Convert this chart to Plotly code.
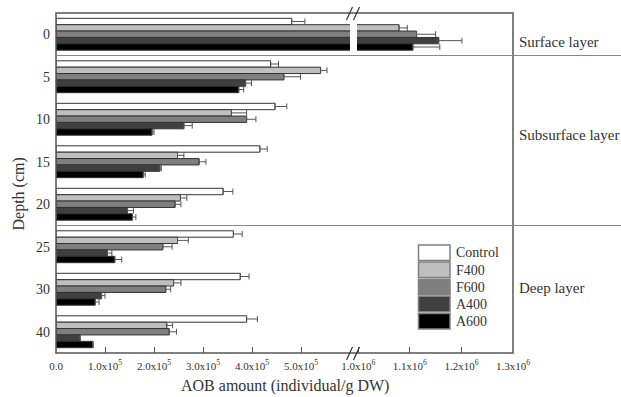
import plotly.graph_objects as go

depths = ["0", "5", "10", "15", "20", "25", "30", "40"]
series_names = ["Control", "F400", "F600", "A400", "A600"]

control = [4.81e5, 4.38e5, 4.47e5, 4.16e5, 3.41e5, 3.62e5, 3.76e5, 3.89e5]
control_err = [0.27e5, 0.16e5, 0.24e5, 0.15e5, 0.20e5, 0.18e5, 0.18e5, 0.22e5]
f400 = [10.79e5, 5.40e5, 3.58e5, 2.48e5, 2.54e5, 2.48e5, 2.40e5, 2.26e5]
f400_err = [0.16e5, 0.13e5, 0.31e5, 0.13e5, 0.13e5, 0.22e5, 0.15e5, 0.12e5]
f600 = [11.13e5, 4.65e5, 3.89e5, 2.92e5, 2.43e5, 2.18e5, 2.24e5, 2.31e5]
f600_err = [0.37e5, 0.34e5, 0.19e5, 0.14e5, 0.12e5, 0.19e5, 0.10e5, 0.15e5]
a400 = [11.56e5, 3.87e5, 2.61e5, 2.12e5, 1.46e5, 1.05e5, 0.93e5, 0.49e5]
a400_err = [0.45e5, 0.12e5, 0.17e5, 0.03e5, 0.12e5, 0.09e5, 0.07e5, 0.0]
a600 = [11.06e5, 3.73e5, 1.96e5, 1.78e5, 1.56e5, 1.20e5, 0.80e5, 0.75e5]
a600_err = [0.52e5, 0.10e5, 0.04e5, 0.04e5, 0.07e5, 0.14e5, 0.08e5, 0.01e5]

values = [control, f400, f600, a400, a600]
errors = [control_err, f400_err, f600_err, a400_err, a600_err]
colors = ["#ffffff", "#bfbfbf", "#7f7f7f", "#404040", "#000000"]

x_left_ticks = [0, 1e5, 2e5, 3e5, 4e5, 5e5]
x_left_text = ["0.0", "1.0x10<sup>5</sup>", "2.0x10<sup>5</sup>", "3.0x10<sup>5</sup>",
               "4.0x10<sup>5</sup>", "5.0x10<sup>5</sup>"]
x_right_ticks = [1.0e6, 1.1e6, 1.2e6, 1.3e6]
x_right_text = ["1.0x10<sup>6</sup>", "1.1x10<sup>6</sup>", "1.2x10<sup>6</sup>", "1.3x10<sup>6</sup>"]

layer_labels = ["Surface layer", "Subsurface layer", "Deep layer"]

FONT = "Liberation Serif, Times New Roman, serif"
TXT = "#333333"

# plot-area geometry (pixels)
W, H = 621, 397
L, R, T, B = 56, 513, 13, 353
PW, PH = R - L, B - T


def px(p):
    return (p - L) / PW


def py(p):
    return (B - p) / PH


fig = go.Figure()
for xa in ["x", "x2"]:
    for name, vals, errs, col in zip(series_names, values, errors, colors):
        fig.add_trace(go.Bar(
            y=depths, x=vals, orientation="h", name=name,
            xaxis=xa, yaxis="y",
            marker=dict(color=col, line=dict(color="#333333", width=1)),
            error_x=dict(type="data", array=errs, arrayminus=[0] * len(errs),
                         symmetric=False, color="#555555", thickness=1, width=3),
            showlegend=False,
        ))

shapes = []
# frame
shapes.append(dict(type="rect", xref="paper", yref="paper", x0=0, x1=1, y0=0, y1=1,
                   line=dict(color="#555555", width=1.5), layer="above"))
# layer separators
for yv in [0.5, 4.5]:
    shapes.append(dict(type="line", xref="paper", yref="y", x0=0, x1=px(W), y0=yv, y1=yv,
                       line=dict(color="#888888", width=1)))
# break marks top and bottom
for (ytop, ybot) in [(7, 20), (347, 360)]:
    for x0 in [346.5, 353.5]:
        shapes.append(dict(type="line", xref="paper", yref="paper",
                           x0=px(x0), x1=px(x0 + 6), y0=py(ybot), y1=py(ytop),
                           line=dict(color="#333333", width=1.2)))

annotations = []
# legend (manual, larger swatches)
for i, (name, col) in enumerate(zip(series_names, colors)):
    top = 245 + i * 17.1
    shapes.append(dict(type="rect", xref="paper", yref="paper",
                       x0=px(418.5), x1=px(450), y0=py(top + 15.5), y1=py(top),
                       fillcolor=col, line=dict(color="#808080", width=1.5)))
    annotations.append(dict(text=name, xref="paper", yref="paper", x=px(454), y=py(top + 8),
                            xanchor="left", yanchor="middle", showarrow=False,
                            font=dict(family=FONT, size=14, color=TXT)))

# layer labels
for lab, yc in zip(layer_labels, [42, 135, 288]):
    annotations.append(dict(text=lab, xref="paper", yref="paper", x=px(517), y=py(yc),
                            xanchor="left", yanchor="middle", showarrow=False,
                            font=dict(family=FONT, size=15, color=TXT)))

# axis titles
annotations.append(dict(text="AOB amount (individual/g DW)", xref="paper", yref="paper",
                        x=0.5, y=py(386), xanchor="center", yanchor="middle", showarrow=False,
                        font=dict(family=FONT, size=16, color=TXT)))
annotations.append(dict(text="Depth (cm)", xref="paper", yref="paper",
                        x=px(18.5), y=py(194), xanchor="center", yanchor="middle", showarrow=False,
                        textangle=-90, font=dict(family=FONT, size=16, color=TXT)))

split_l = px(350)
split_r = px(357)

xtick_common = dict(ticks="inside", ticklen=6, tickcolor="#555555", tickwidth=1.2,
                    showgrid=False, zeroline=False, showline=False, ticklabelstandoff=5,
                    tickfont=dict(family=FONT, size=11, color=TXT))

fig.update_layout(
    width=W, height=H,
    margin=dict(l=L, r=W - R, t=T, b=H - B, pad=0),
    paper_bgcolor="white", plot_bgcolor="white",
    barmode="group", bargap=0.25, bargroupgap=0,
    showlegend=False,
    font=dict(family=FONT, color=TXT),
    xaxis=dict(domain=[0, split_l], range=[0, 6.0e5], anchor="y",
               tickmode="array", tickvals=x_left_ticks, ticktext=x_left_text,
               **xtick_common),
    xaxis2=dict(domain=[split_r, 1], range=[0.9975e6, 1.3e6], anchor="y",
                tickmode="array", tickvals=x_right_ticks, ticktext=x_right_text,
                **xtick_common),
    yaxis=dict(type="category", categoryorder="array", categoryarray=depths,
               range=[7.5, -0.5], anchor="x", showgrid=False, zeroline=False,
               showline=False, ticks="", ticklabelstandoff=5,
               tickfont=dict(family=FONT, size=14, color=TXT)),
    shapes=shapes,
    annotations=annotations,
)

fig.write_html("out.html", config={"displayModeBar": False},
               post_script="document.body.style.margin='0px';document.body.style.overflow='hidden';")
